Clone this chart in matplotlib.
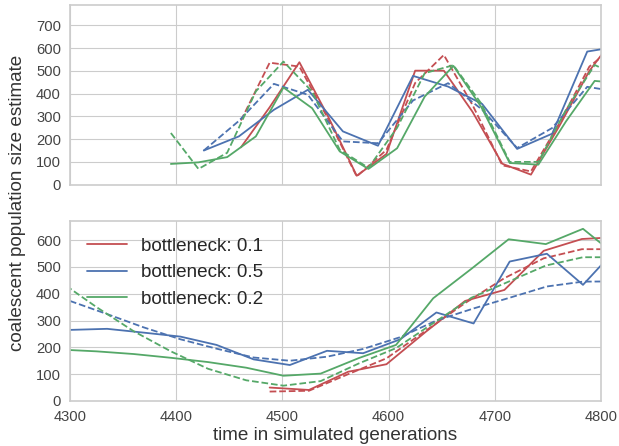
"""
Coalescent population size estimates for three bottleneck strengths,
oscillating scenario (top) and growth scenario (bottom).
"""

import matplotlib
matplotlib.use("Agg")  # headless backend
import matplotlib.pyplot as plt
import seaborn as sns

# top panel: oscillating population
TOP_T_01 = [4461, 4488, 4516, 4543, 4570, 4598, 4625, 4652, 4679, 4707, 4734, 4761, 4789, 4816]
TOP_N_01 = [164, 340, 538, 300, 39, 135, 501, 501, 320, 92, 44, 260, 500, 667]
TOP_S_01 = [282, 536, 519, 290, 36, 153, 447, 570, 350, 85, 58, 272, 519, 620]

TOP_T_05 = [4426, 4459, 4492, 4524, 4557, 4590, 4623, 4656, 4688, 4721, 4754, 4787, 4820]
TOP_N_05 = [150, 212, 329, 417, 234, 171, 478, 431, 355, 157, 224, 585, 610]
TOP_S_05 = [150, 280, 443, 395, 190, 182, 370, 446, 330, 161, 249, 430, 405]

TOP_T_02 = [4395, 4421, 4448, 4475, 4501, 4528, 4554, 4581, 4608, 4634, 4661, 4687, 4714, 4741, 4767, 4794, 4820]
TOP_N_02 = [91, 98, 121, 212, 427, 336, 146, 69, 160, 387, 522, 343, 95, 88, 278, 456, 445]
TOP_S_02 = [227, 69, 140, 410, 541, 409, 153, 74, 250, 490, 525, 358, 100, 100, 329, 526, 470]

# bottom panel: growing population
BOT_T_01 = [4488, 4525, 4562, 4598, 4635, 4672, 4709, 4746, 4782, 4819]
BOT_N_01 = [50, 41, 109, 137, 258, 373, 414, 560, 604, 612]
BOT_S_01 = [35, 38, 100, 159, 262, 365, 458, 532, 566, 566]

BOT_T_05 = [4300, 4335, 4369, 4404, 4438, 4473, 4507, 4542, 4576, 4611, 4645, 4680, 4714, 4749, 4783, 4818]
BOT_N_05 = [265, 269, 255, 240, 209, 155, 134, 187, 178, 230, 330, 289, 520, 549, 433, 583]
BOT_S_05 = [373, 324, 275, 230, 195, 162, 150, 165, 194, 238, 300, 345, 385, 427, 445, 446]

BOT_T_02 = [4289, 4325, 4360, 4395, 4430, 4466, 4501, 4536, 4572, 4607, 4642, 4678, 4713, 4748, 4783, 4819]
BOT_N_02 = [192, 185, 175, 161, 145, 124, 94, 102, 160, 209, 383, 493, 603, 585, 642, 527]
BOT_S_02 = [450, 350, 260, 185, 120, 77, 57, 74, 140, 197, 290, 385, 445, 505, 536, 536]

LABELS = ["bottleneck: 0.1", "bottleneck: 0.5", "bottleneck: 0.2"]
COLORS = ["#C44E52", "#4C72B0", "#55A868"]
X_TICKS = [4300, 4400, 4500, 4600, 4700, 4800]

sns.set_style("whitegrid")
plt.rcParams["font.family"] = ["Liberation Sans", "DejaVu Sans"]

fig = plt.figure(figsize=(6.19, 4.46), dpi=100)
ax_top = fig.add_axes([0.113, 0.586, 0.858, 0.403])
ax_bot = fig.add_axes([0.113, 0.101, 0.858, 0.404], sharex=ax_top)

top = [(TOP_T_01, TOP_N_01, TOP_S_01), (TOP_T_05, TOP_N_05, TOP_S_05), (TOP_T_02, TOP_N_02, TOP_S_02)]
bot = [(BOT_T_01, BOT_N_01, BOT_S_01), (BOT_T_05, BOT_N_05, BOT_S_05), (BOT_T_02, BOT_N_02, BOT_S_02)]

for (t, n, s), color in zip(top, COLORS):
    ax_top.plot(t, n, color=color, lw=1.3)
    ax_top.plot(t, s, color=color, lw=1.3, ls="--")

for (t, n, s), color, label in zip(bot, COLORS, LABELS):
    ax_bot.plot(t, n, color=color, lw=1.3, label=label)
    ax_bot.plot(t, s, color=color, lw=1.3, ls="--")

ax_top.set_xlim(4300, 4800)
ax_top.set_ylim(0, 790)
ax_top.set_yticks(range(0, 800, 100))
ax_bot.set_ylim(0, 672)
ax_bot.set_yticks(range(0, 700, 100))
ax_bot.set_xticks(X_TICKS)
ax_top.tick_params(axis="x", labelbottom=False)

for ax in (ax_top, ax_bot):
    ax.tick_params(labelsize=10.6, colors="#444444", pad=3)
    for sp in ax.spines.values():
        sp.set_color("#cccccc")
        sp.set_linewidth(1.2)

ax_bot.set_xlabel("time in simulated generations", fontsize=13.6, color="#333333", labelpad=2)
fig.text(0.028, 0.545, "coalescent population size estimate", rotation=90,
         ha="center", va="center", fontsize=13.6, color="#333333")

ax_bot.legend(loc="upper left", fontsize=13.6, frameon=False,
              handlelength=2.1, handletextpad=0.75, labelspacing=0.48)

plt.savefig("out.png", dpi=100)
plt.close()
